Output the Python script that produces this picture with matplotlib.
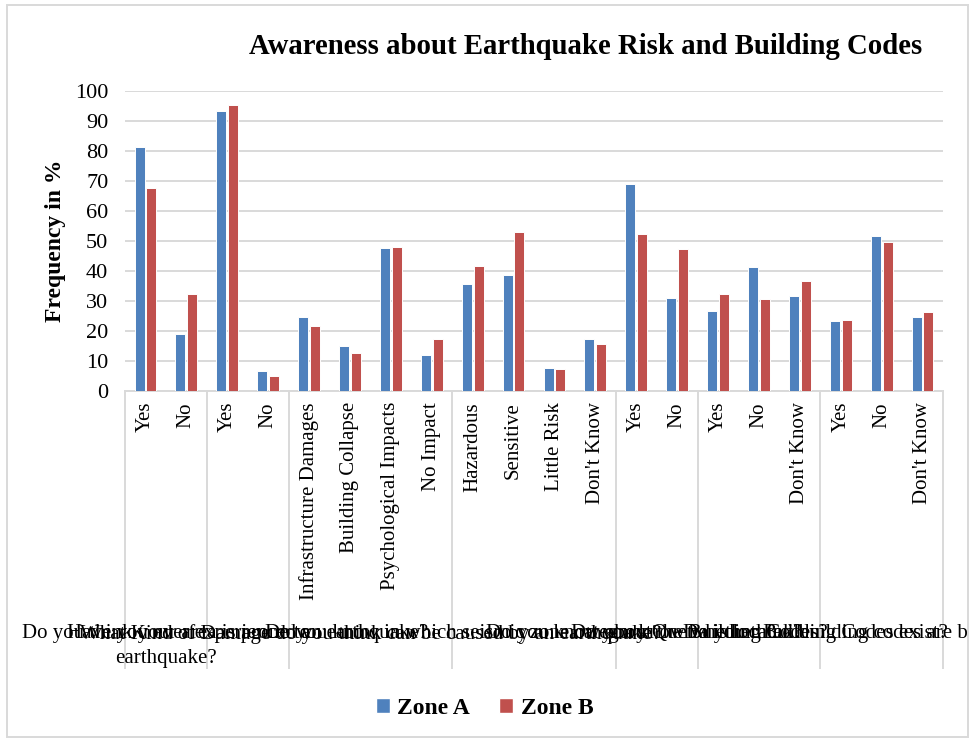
import matplotlib
matplotlib.use("Agg")
import matplotlib.pyplot as plt
import matplotlib.transforms as mtransforms
from matplotlib.patches import Rectangle, Patch
import numpy as np

plt.rcParams['font.family'] = ['Liberation Serif', 'DejaVu Serif']

# Survey questions (outer category level) and their answer options
questions = [
    "Do you think your area is prone to\nearthquake?",
    "Have you ever experienced an earthquake?",
    "What Kind of Damage do you think can be caused by an earthquake?",
    "Do you know in which seismic zone category Quetta is located?",
    "Do you know about the Building Codes?",
    "Do you know whether Building Codes exist?",
    "Do you think building codes are being applied?",
]
answers = [
    ["Yes", "No"],
    ["Yes", "No"],
    ["Infrastructure Damages", "Building Collapse", "Psychological Impacts", "No Impact"],
    ["Hazardous", "Sensitive", "Little Risk", "Don't Know"],
    ["Yes", "No"],
    ["Yes", "No", "Don't Know"],
    ["Yes", "No", "Don't Know"],
]

# Frequency in % per answer, in the order above
zone_a = [81.3, 18.9, 93.3, 6.8, 24.6, 15.1, 47.8, 12.1, 35.8, 38.6,
          7.7, 17.4, 68.9, 30.9, 26.6, 41.3, 31.8, 23.2, 51.6, 24.8]
zone_b = [67.7, 32.3, 95.2, 4.9, 21.6, 12.8, 48.0, 17.2, 41.6, 53.1,
          7.2, 15.8, 52.4, 47.3, 32.2, 30.8, 36.7, 23.7, 49.6, 26.4]

series_names = ["Zone A", "Zone B"]
colors = ["#4F81BD", "#C0504D"]
grid_color = "#D9D9D9"

W, H = 969, 738
fig = plt.figure(figsize=(W / 100, H / 100), dpi=100)

# plot area in pixel coordinates
left, right, top, bottom = 125, 943, 91, 391
ax = fig.add_axes([left / W, 1 - bottom / H, (right - left) / W, (bottom - top) / H])

labels = [a for grp in answers for a in grp]
x = np.arange(len(labels))
bw = 0.245
off = 0.145
ax.bar(x - off, zone_a, bw, color=colors[0], edgecolor="white", linewidth=0.7, zorder=3)
ax.bar(x + off, zone_b, bw, color=colors[1], edgecolor="white", linewidth=0.7, zorder=3)

ax.set_xlim(-0.5, len(labels) - 0.5)
ax.set_ylim(0, 100)
ax.set_yticks(np.arange(0, 101, 10))
ax.tick_params(axis="y", length=0, pad=12, labelsize=16)
ax.set_xticks([])
ax.yaxis.grid(True, color=grid_color, linewidth=1.4, zorder=0)
ax.set_axisbelow(True)
for s in ["top", "right", "left"]:
    ax.spines[s].set_visible(False)
ax.spines["bottom"].set_color(grid_color)
ax.spines["bottom"].set_linewidth(1.4)

# multi-level category axis
trans = mtransforms.blended_transform_factory(ax.transData, fig.transFigure)
for xi, lab in zip(x, labels):
    ax.text(xi, 1 - 402 / H, lab, rotation=90, ha="center", va="top",
            fontsize=15, transform=trans, clip_on=False)

bounds = np.concatenate([[0], np.cumsum([len(g) for g in answers])]) - 0.5
for b in bounds:
    ax.plot([b, b], [1 - bottom / H, 1 - 668 / H], color=grid_color,
            linewidth=1.4, transform=trans, clip_on=False)
for i, q in enumerate(questions):
    cx = (bounds[i] + bounds[i + 1]) / 2
    ax.text(cx, 1 - 624 / H, q, ha="center", va="top", fontsize=15,
            linespacing=1.4, multialignment="center", transform=trans, clip_on=False)

# titles
fig.text(586 / W, 1 - 47 / H, "Awareness about Earthquake Risk and Building Codes",
         ha="center", va="center", fontsize=20.7, fontweight="bold")
fig.text(55 / W, 1 - 241 / H, "Frequency in %", rotation=90, ha="center",
         va="center", fontsize=17, fontweight="bold")

# legend
handles = [Patch(facecolor=c, edgecolor="white") for c in colors]
fig.legend(handles, series_names, loc="center", bbox_to_anchor=(0.5, 1 - 708 / H),
           ncol=2, frameon=False, prop={"weight": "bold", "size": 17},
           handlelength=0.6, handleheight=0.6, handletextpad=0.3, columnspacing=1.25)

# chart area border
fig.patches.append(Rectangle((7 / W, 1 - 737 / H), (968 - 7) / W, (737 - 5) / H,
                             transform=fig.transFigure, fill=False,
                             edgecolor=grid_color, linewidth=1.4))

fig.savefig("out.png", dpi=100)
